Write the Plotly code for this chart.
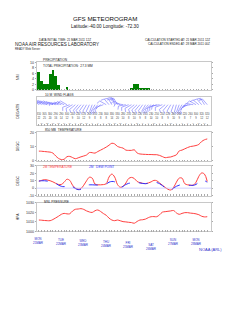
import numpy as np
import plotly.graph_objects as go

# ---------------- data (3-hourly, forecast hours from 21 MAR 2011 12Z) ----------------
hours = list(range(0, 181, 3))

precip_mm = [6.5, 3.0, 2.0, 2.0, 5.5, 7.0, 5.0, 1.7, 0.0, 0.0,
             0.8, 0.0, 0.0, 0.0, 0.0, 0.0, 0.0, 0.0, 0.0, 0.0,
             0.0, 0.0, 0.0, 0.0, 0.0, 0.0, 0.0, 0.0, 0.0, 0.0,
             0.0, 0.0, 0.0, 0.3, 2.0, 2.2, 0.7, 0.6, 0.6, 0.5,
             0.0, 0.0, 0.0, 0.0, 0.0, 0.0, 0.0, 0.0, 0.0, 0.0,
             0.0, 0.0, 0.0, 0.0, 0.0, 0.0, 0.0, 0.0, 0.0, 0.0,
             0.0]

wind_dir = [310, 310, 305, 300, 300, 295, 290, 285, 290, 295,
            300, 250, 240, 230, 220, 220, 215, 210, 205, 200,
            210, 220, 230, 250, 300, 320, 330, 340, 330, 300,
            280, 260, 250, 240, 230, 225, 220, 215, 210, 220,
            230, 240, 250, 260, 250, 230, 220, 210, 200, 195,
            200, 210, 220, 240, 260, 280, 300, 310, 320, 330,
            320]
wind_kt = [22, 24, 25, 22, 20, 18, 16, 15, 14, 14,
           12, 10, 9, 8, 10, 12, 12, 10, 9, 8,
           8, 8, 8, 7, 8, 10, 14, 18, 20, 15,
           10, 8, 8, 9, 10, 10, 9, 8, 8, 9,
           10, 10, 10, 9, 8, 8, 9, 10, 10, 9,
           9, 8, 8, 7, 7, 8, 9, 10, 12, 14,
           12]

temp850 = [6.9, 6.8, 6.6, 6.4, 6.2, 5.5, 3.5, 1.8, 1.0, 1.2,
           3.0, 3.2, 2.4, 1.6, 2.2, 2.9, 3.5, 4.2, 5.9, 5.8,
           5.5, 6.6, 7.6, 8.6, 9.7, 11.0, 12.4, 11.9, 10.2, 9.5,
           9.0, 7.6, 7.4, 7.4, 7.8, 5.6, 4.9, 4.7, 4.6, 4.5,
           4.5, 4.4, 4.4, 3.9, 3.1, 2.3, 2.6, 2.8, 3.5, 4.3,
           7.0, 7.6, 8.5, 9.4, 10.1, 10.4, 10.8, 11.6, 13.6, 14.8,
           15.4]

temp2m = [9.5, 10.5, 11.5, 11.0, 10.0, 8.5, 6.5, 5.0, 5.0, 8.0,
          12.0, 10.5, 4.0, 0.0, -1.5, -0.5, 4.0, 10.0, 14.7, 13.5,
          5.5, 4.5, 4.5, 4.8, 6.0, 15.0, 19.0, 15.0, 5.0, 1.3,
          2.5, 7.0, 13.0, 14.5, 13.0, 9.0, 7.5, 6.5, 6.2, 7.0,
          8.5, 10.5, 10.0, 7.0, 4.0, 1.0, -1.5, -2.5, 1.0, 8.0,
          13.5, 13.5, 6.0, 4.5, 4.0, 4.0, 8.0, 16.0, 20.5, 19.0,
          9.0]

dew2m = [9.5, 10.0, 10.0, 9.5, 9.0, 8.0, 6.5, 4.0, 2.5, 2.0,
         3.5, 4.5, 2.0, -0.5, -2.0, -1.5, 1.5, 3.5, 4.5, 4.5,
         4.3, 4.2, 4.3, 4.6, 5.5, 8.0, 9.0, 8.5, 4.5, 1.2,
         2.3, 5.0, 6.5, 7.0, 7.5, 7.5, 7.0, 6.3, 6.0, 6.5,
         7.0, 7.5, 7.5, 6.0, 3.5, 0.5, -2.0, -3.0, 0.0, 2.5,
         4.0, 4.5, 4.5, 4.0, 3.8, 3.8, 5.0, 8.0, 10.0, 10.0,
         8.0]

mslp = [1012.0, 1011.8, 1011.5, 1011.3, 1011.3, 1012.5, 1014.2, 1016.0, 1018.0, 1019.0,
        1018.5, 1018.6, 1021.5, 1023.3, 1023.6, 1024.0, 1023.2, 1021.6, 1020.5, 1020.0,
        1021.8, 1022.6, 1021.0, 1018.8, 1017.0, 1014.0, 1012.0, 1011.3, 1012.0, 1011.2,
        1010.3, 1010.0, 1009.6, 1009.3, 1008.6, 1010.5, 1012.0, 1012.3, 1013.0, 1014.5,
        1015.5, 1015.6, 1015.5, 1017.5, 1020.3, 1020.8, 1021.2, 1021.6, 1022.0, 1019.5,
        1018.0, 1019.0, 1019.8, 1019.8, 1019.3, 1019.0, 1018.5, 1017.6, 1016.0, 1015.3,
        1015.5]

day_hours = [0, 24, 48, 72, 96, 120, 144, 168]
day_names = ["MON", "TUE", "WED", "THU", "FRI", "SAT", "SUN", "MON"]
day_dates = ["21MAR", "22MAR", "23MAR", "24MAR", "25MAR", "26MAR", "27MAR", "28MAR"]

y_ticks_precip = [0, 2, 4, 6, 8, 10]
y_ticks_850 = [0, 10, 20]
y_ticks_2m = [-10, 0, 10, 20, 30]
y_ticks_mslp = [1000, 1010, 1020, 1030]

# ---------------- layout geometry ----------------
W, H = 247, 320
X0, X1 = 37, 211
XR = [-2, 184]
FONT = "Liberation Sans"
RED = "#ff4040"
BLUE = "#3030ff"
LBLUE = "#7070ff"
GREEN = "#008000"

panels = {1: (61, 89), 2: (96, 125), 3: (132, 161), 4: (166, 196), 5: (203.5, 232.3)}
yranges = {1: [0, 10], 2: [0, 10], 3: [0, 20], 4: [-10, 30], 5: [1000, 1030]}


def pyp(p):
    return 1 - p / H


def data_y(k, p):
    t, b = panels[k]
    lo, hi = yranges[k]
    return lo + (b - p) / (b - t) * (hi - lo)


fig = go.Figure()

# precipitation bars
fig.add_trace(go.Bar(x=hours, y=precip_mm, width=3, marker=dict(color=GREEN, line=dict(width=0)),
                     xaxis="x", yaxis="y"))

# wind barbs
PXH = (X1 - X0) / (XR[1] - XR[0])
wt, wb = panels[2]
PXY = (wb - wt) / (yranges[2][1] - yranges[2][0])
STY = data_y(2, 104)
bx_all, by_all = [], []
for h, d, s in zip(hours, wind_dir, wind_kt):
    th = np.deg2rad(d)
    ux, uy = np.sin(th), np.cos(th)
    nx, ny = -uy, ux
    L = 7.5
    segs = [[(0.0, 0.0), (ux * L, uy * L)]]
    pos = L
    full, rem = divmod(int(round(s / 5.0)) * 5, 10)
    for i in range(full):
        px0, py0 = ux * pos, uy * pos
        segs.append([(px0, py0), (px0 + nx * 3.5 + ux * 1.2, py0 + ny * 3.5 + uy * 1.2)])
        pos -= 1.5
    if rem >= 5:
        px0, py0 = ux * pos, uy * pos
        segs.append([(px0, py0), (px0 + nx * 1.8 + ux * 0.6, py0 + ny * 1.8 + uy * 0.6)])
    for seg in segs:
        for a, b in seg:
            bx_all.append(h + a / PXH)
            by_all.append(STY + b / PXY)
        bx_all.append(None)
        by_all.append(None)
fig.add_trace(go.Scatter(x=bx_all, y=by_all, mode="lines", line=dict(color=LBLUE, width=0.6),
                         xaxis="x2", yaxis="y2", cliponaxis=False))

# wind text rows
fig.add_trace(go.Scatter(x=hours[::2], y=[data_y(2, 114)] * len(hours[::2]), mode="text",
                         text=[str(v) for v in wind_dir[::2]],
                         textfont=dict(size=2.6, color="#444444", family=FONT),
                         xaxis="x2", yaxis="y2", cliponaxis=False))
fig.add_trace(go.Scatter(x=hours[::2], y=[data_y(2, 118)] * len(hours[::2]), mode="text",
                         text=[str(v) for v in wind_kt[::2]],
                         textfont=dict(size=2.6, color="#444444", family=FONT),
                         xaxis="x2", yaxis="y2", cliponaxis=False))
fig.add_trace(go.Scatter(x=hours[1::2], y=[data_y(2, 122.5)] * len(hours[1::2]), mode="text",
                         text=[str(v) for v in wind_kt[1::2]],
                         textfont=dict(size=2.2, color="#777777", family=FONT),
                         xaxis="x2", yaxis="y2", cliponaxis=False))

# 850 mb temperature
fig.add_trace(go.Scatter(x=hours, y=temp850, mode="lines", line=dict(color=RED, width=1, shape="spline"),
                         xaxis="x3", yaxis="y3"))

# 2m temperature & dew point
fig.add_trace(go.Scatter(x=hours, y=temp2m, mode="lines", line=dict(color=RED, width=1, shape="spline"),
                         xaxis="x4", yaxis="y4"))
fig.add_trace(go.Scatter(x=hours, y=dew2m, mode="lines",
                         line=dict(color=BLUE, width=1, dash="dash", shape="spline"),
                         xaxis="x4", yaxis="y4"))

# msl pressure
fig.add_trace(go.Scatter(x=hours, y=mslp, mode="lines", line=dict(color=RED, width=1, shape="spline"),
                         xaxis="x5", yaxis="y5"))

# hour label rows (blue)
hod = ["%02d" % ((12 + h) % 24) for h in hours]
fig.add_trace(go.Scatter(x=hours, y=[data_y(1, 53)] * len(hours), mode="text", text=hod,
                         textfont=dict(size=2.4, color=LBLUE, family=FONT),
                         xaxis="x", yaxis="y", cliponaxis=False))
fig.add_trace(go.Scatter(x=hours, y=[data_y(5, 234.6)] * len(hours), mode="text", text=hod,
                         textfont=dict(size=2.4, color=LBLUE, family=FONT),
                         xaxis="x5", yaxis="y5", cliponaxis=False))
dom = ["%02d" % (21 + (12 + h) // 24) for h in hours]
fig.add_trace(go.Scatter(x=hours, y=[data_y(5, 238)] * len(hours), mode="text", text=dom,
                         textfont=dict(size=2.4, color=LBLUE, family=FONT),
                         xaxis="x5", yaxis="y5", cliponaxis=False))

layout = dict(width=W, height=H, margin=dict(l=0, r=0, t=0, b=0), showlegend=False,
              paper_bgcolor="white", plot_bgcolor="white", bargap=0,
              font=dict(family=FONT, size=4, color="#222222"))

ytick_map = {1: y_ticks_precip, 2: [], 3: y_ticks_850, 4: y_ticks_2m, 5: y_ticks_mslp}
for k in range(1, 6):
    sfx = "" if k == 1 else str(k)
    t, b = panels[k]
    layout["xaxis" + sfx] = dict(domain=[X0 / W, X1 / W], range=XR, showticklabels=False,
                                 showgrid=False, zeroline=False, showline=True, mirror=True,
                                 linecolor="#c8c8c8", linewidth=0.6, ticks="inside", tick0=0,
                                 dtick=3, ticklen=1.5, tickwidth=0.4, tickcolor="#aaaaaa",
                                 anchor="y" + sfx, fixedrange=True)
    layout["yaxis" + sfx] = dict(domain=[pyp(b), pyp(t)], range=yranges[k], showgrid=False,
                                 zeroline=False, showline=True, mirror="ticks", linecolor="#c8c8c8",
                                 linewidth=0.6, tickmode="array", tickvals=ytick_map[k],
                                 ticktext=[str(v) for v in ytick_map[k]],
                                 ticks="outside" if ytick_map[k] else "", ticklen=1.5, tickwidth=0.4,
                                 tickcolor="#aaaaaa", tickfont=dict(size=3.6, color="#333333"),
                                 anchor="x" + sfx, fixedrange=True)

layout["shapes"] = [dict(type="line", xref="x4 domain", yref="y4", x0=0, x1=1, y0=0, y1=0,
                         line=dict(color="#b0b0ff", width=0.6))]

ann = []


def A(text, x, y, size, color="#222222", xanchor="left", yanchor="middle", **kw):
    d = dict(text=text, x=x / W, y=pyp(y), xref="paper", yref="paper", showarrow=False,
             xanchor=xanchor, yanchor=yanchor, font=dict(size=size, color=color, family=FONT))
    d.update(kw)
    ann.append(d)


A("GFS METEOROGRAM", 104.5, 17, 6.2, "#111111", xanchor="center")
A("Latitude:-40.00 Longitude: -72.30", 104.5, 25, 4.6, "#111111", xanchor="center")
A("DATA INITIAL TIME: 21 MAR 2011 12Z", 65, 38, 3.0, xanchor="center")
A("CALCULATION STARTED AT: 21 MAR 2011 12Z", 212, 38, 3.0, xanchor="right")
A("CALCULATION ENDED AT: 28 MAR 2011 00Z", 212, 42.5, 3.0, xanchor="right")
A("NOAA AIR RESOURCES LABORATORY", 13, 43, 4.6)
A("READY Web Server", 13, 47.3, 2.8)

A("PRECIPITATION", 41, 58.3, 3.2)
A("TOTAL PRECIPITATION:  27.3 MM", 41, 65, 3.2)
A("10 M  WIND FLAGS", 43, 94, 3.2)
A("850 MB  TEMPERATURE", 43.3, 130, 3.2)
A("2M TEMPERATURE", 41, 167.5, 3.2, RED)
A("2M   DEW POINT", 87, 167.5, 3.2, BLUE)
A("MSL PRESSURE", 41.7, 202.3, 3.2)

for txt, yy in [("MM", 76), ("DEG/KTS", 110), ("DEGC", 146), ("DEGC", 181), ("HPA", 218)]:
    A(txt, 18, yy, 3.4, xanchor="center", textangle=-90)

stagger = [0, 1, 2, 3, 4, 5.4, 1, 1]
for h, n, dt, s in zip(day_hours, day_names, day_dates, stagger):
    ann.append(dict(text=n + "<br>" + dt, x=h, y=pyp(242.5 + s), xref="x5", yref="paper",
                    showarrow=False, xanchor="center", yanchor="middle",
                    font=dict(size=3.0, color="#3333cc", family=FONT)))

A("NOAA (ARL)", 210, 251, 4.0, "#3333cc", xanchor="center")
layout["annotations"] = ann

fig.update_layout(**layout)
fig.write_html("out.html")
